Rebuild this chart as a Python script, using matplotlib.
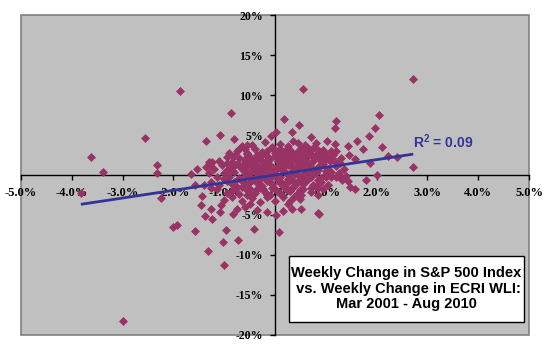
"""Weekly change in S&P 500 vs weekly change in ECRI WLI, scatter with trendline"""

import numpy as np
from matplotlib import pyplot as plt
from matplotlib.patches import Rectangle

plt.rcParams['mathtext.fontset'] = 'custom'
plt.rcParams['mathtext.rm'] = 'Liberation Sans:bold'
plt.rcParams['mathtext.it'] = 'Liberation Sans:bold'
plt.rcParams['mathtext.bf'] = 'Liberation Sans:bold'

# Outlying weeks (x = ECRI WLI weekly change %, y = S&P 500 weekly change %)
outlier_x = [-3.82, -3.63, -3.39, -2.99, -2.56, -2.32, -2.32, -2.24, -2.00, -1.92,
             -1.86, -1.65, -1.57, -1.53, -1.45, -1.44, -1.40, -1.57, -1.38, -1.36,
             -1.31, -1.27, -1.25, -1.24, -1.23, -1.09, -1.08, -1.07, -1.02, -1.00,
             -0.96, -0.87, -0.83, -0.82, -0.80, -0.75, -0.73, -0.70, -0.59, -0.56,
             -0.56, -0.41, -0.36, -0.16, -0.08, 0.02, 0.02, 0.08, 0.16, 0.17,
             0.33, 0.34, 0.37, 0.48, 0.51, 0.52, 0.56, 0.66, 0.70, 0.84,
             0.86, 0.85, 0.98, 1.02, 1.04, 1.08, 1.19, 1.19, 1.21, 1.21,
             1.21, 1.28, 1.31, 1.43, 1.44, 1.45, 1.48, 1.57, 1.57, 1.62,
             1.73, 1.80, 1.84, 1.87, 1.97, 2.00, 2.04, 2.10, 2.23, 2.40,
             2.72, 2.72]
outlier_y = [-2.3, 2.25, 0.4, -18.25, 4.6, 1.3, 0.2, -2.9, -6.5, -6.3,
             10.5, 0.1, -7.0, 0.75, -3.75, -2.6, -1.2, -1.25, -5.1, 4.25,
             -9.5, 1.3, -4.25, -5.5, 1.6, -4.6, 5.0, -3.7, -8.4, -11.2,
             -6.9, 7.8, 2.3, -4.9, 4.5, -4.2, -8.1, 3.2, -4.0, 3.75,
             -2.5, -6.75, -4.4, -4.6, 4.9, 5.4, -5.0, -7.1, -4.45, 7.0,
             -4.25, 5.4, -2.8, 6.2, -4.3, -2.5, 10.75, 3.25, 4.75, -4.7,
             -4.9, -2.5, 2.7, 4.2, -1.3, 1.7, 5.9, 3.9, 6.8, 3.0,
             -0.2, 1.45, -0.6, -0.7, 3.6, 2.5, -1.5, 2.0, -1.75, 4.2,
             3.3, -0.6, 4.9, 1.45, 5.9, 0.0, 7.5, 3.5, 2.4, 2.2,
             12.0, 1.05]

# Cluster around the origin
cluster_x = [-0.45, -0.2, 0.1, 0.35, 0.6, 0.25, -0.05, 0.8, -0.65, 0.45,
             -0.9, -0.75, -0.55, -0.4, -0.3, -0.15, 0.0, 0.1, 0.2, 0.3,
             0.4, 0.5, 0.6, 0.7, 0.85, 0.95, -0.05, 0.55, -0.6, 0.15,
             -0.25, 0.75, 1.1,
             -1.1, -0.95, -0.85, -0.7, -0.6, -0.5, -0.4, -0.3, -0.2, -0.1,
             0.0, 0.05, 0.15, 0.25, 0.35, 0.45, 0.55, 0.65, 0.75, 0.85,
             0.95, 1.05, 1.15, -0.45, 0.3, 0.6, -0.15, 0.9, -0.8, 0.2,
             -1.2, -1.05, -0.95, -0.85, -0.75, -0.65, -0.55, -0.45, -0.35, -0.25,
             -0.15, -0.05, 0.05, 0.15, 0.25, 0.35, 0.45, 0.55, 0.65, 0.75,
             0.85, 0.95, 1.05, 1.2, 1.35, -1.35, 0.1, -0.6, 0.4, 0.7,
             -1.3, -1.15, -1.0, -0.9, -0.8, -0.7, -0.6, -0.5, -0.4, -0.3,
             -0.2, -0.1, 0.0, 0.1, 0.2, 0.3, 0.4, 0.5, 0.6, 0.7,
             0.8, 0.9, 1.0, 1.1, 1.25, 1.4, -0.45, 0.25, -0.15, 0.65,
             -1.25, -1.1, -0.95, -0.85, -0.75, -0.65, -0.55, -0.45, -0.35, -0.25,
             -0.15, -0.05, 0.05, 0.15, 0.25, 0.35, 0.45, 0.55, 0.65, 0.75,
             0.9, 1.05, -0.6, 0.1, -0.3,
             -1.15, -0.95, -0.8, -0.7, -0.55, -0.4, -0.3, -0.2, -0.1, 0.0,
             0.1, 0.2, 0.3, 0.45, 0.55, 0.7, 0.85, -0.5, 0.35, -0.85,
             -1.0, -0.85, -0.65, -0.45, -0.3, -0.15, 0.0, 0.15, 0.3, 0.5,
             0.25, -0.5, -1.3, -1.25]
cluster_y = [3.8, 4.1, 3.9, 4.3, 3.7, 3.6, 3.5, 4.0, 3.6, 3.95,
             2.7, 3.0, 2.8, 3.2, 2.6, 3.0, 2.8, 3.3, 2.7, 3.1,
             2.6, 3.2, 2.9, 2.6, 3.1, 2.8, 3.4, 3.4, 3.3, 2.55,
             2.9, 3.35, 3.0,
             1.8, 2.2, 1.6, 2.1, 1.7, 2.3, 1.9, 2.2, 1.6, 2.0,
             2.4, 1.7, 2.1, 1.8, 2.3, 1.6, 2.0, 2.4, 1.8, 2.2,
             1.6, 2.3, 1.9, 1.55, 1.55, 1.65, 2.35, 2.45, 2.4, 2.45,
             0.8, 1.2, 0.6, 1.0, 1.4, 0.7, 1.1, 0.6, 1.3, 0.9,
             1.4, 0.7, 1.1, 0.6, 1.3, 0.9, 1.4, 0.7, 1.2, 0.6,
             1.0, 1.4, 0.8, 1.1, 0.7, 1.0, 1.45, 1.45, 0.55, 0.95,
             0.2, -0.3, 0.3, -0.2, 0.4, -0.4, 0.1, -0.3, 0.35, -0.1,
             0.2, -0.4, 0.1, -0.2, 0.4, -0.35, 0.15, -0.1, 0.3, -0.3,
             0.2, -0.4, 0.1, -0.2, 0.3, -0.1, -0.45, 0.0, 0.45, 0.45,
             -0.9, -1.3, -0.7, -1.1, -1.45, -0.8, -1.2, -0.6, -1.0, -1.4,
             -0.75, -1.15, -0.6, -1.3, -0.9, -1.45, -0.7, -1.1, -0.55, -1.3,
             -0.9, -1.2, -1.0, -0.95, -0.55,
             -1.8, -2.2, -1.7, -2.4, -1.9, -2.3, -1.6, -2.1, -2.5, -1.8,
             -2.2, -1.6, -2.0, -2.3, -1.7, -2.1, -1.6, -2.5, -1.55, -2.0,
             -3.1, -2.7, -3.3, -2.9, -3.4, -2.7, -3.2, -2.8, -3.3, -3.0,
             -3.6, -3.6, 1.6, -1.6]

# Densest core of the cloud
core_x = [-0.65, -0.5, -0.35, -0.2, -0.05, 0.1, 0.25, 0.4, 0.55, 0.7, 0.85, 1.0,
          -0.6, -0.45, -0.3, -0.15, 0.0, 0.15, 0.3, 0.45, 0.6, 0.75, 0.9, 1.0,
          -0.55, -0.35, -0.2, 0.05, 0.2, 0.35, 0.5, 0.65, 0.8, 0.95,
          -0.7, -0.5, -0.35, -0.2, -0.05, 0.1, 0.25, 0.4, 0.55, 0.7, 0.85, 1.0,
          -0.65, -0.5, -0.3, -0.1, 0.05, 0.2, 0.35, 0.5, 0.6, 0.8, 0.95,
          -0.6, -0.4, -0.25, -0.1, 0.05, 0.2, 0.3, 0.45, 0.6, 0.75, 0.9,
          1.1, 1.2, 1.3, 1.15, 1.3, -0.85, -0.95, -1.0, -0.8, -0.9]
core_y = [-1.5, -0.9, -1.8, -0.3, -1.6, -0.7, -1.9, -1.2, -0.4, -1.6, -0.6, -0.3,
          0.5, 1.8, 0.6, 1.2, 0.5, 1.9, 0.3, 1.0, 1.9, 0.3, 1.7, 0.5,
          2.6, 2.45, 2.75, 2.2, 3.0, 2.65, 2.45, 2.75, 2.55, 3.1,
          1.25, 0.25, -0.25, 1.05, 0.25, 0.85, -0.55, 2.0, 1.45, 1.55, 0.65, 2.1,
          -0.6, -1.75, -1.25, -0.9, -2.1, -1.1, -0.8, -1.85, -0.85, -1.35, -1.8,
          2.0, 1.0, 1.7, 1.2, 3.0, 1.3, 2.2, 2.9, 0.9, 2.25, 1.3,
          0.4, 1.6, -0.4, 2.5, 2.1, 0.9, 1.5, -0.5, -0.9, 0.3]

wli_change = np.array(outlier_x + cluster_x + core_x)
spx_change = np.array(outlier_y + cluster_y + core_y)

# Linear trendline as shown on the chart
trend_slope = 0.96
trend_intercept = 0.0
r_squared = 0.09

title_text = 'Weekly Change in S&P 500 Index\n vs. Weekly Change in ECRI WLI:\nMar 2001 - Aug 2010'

x_ticks = [-5, -4, -3, -2, -1, 0, 1, 2, 3, 4, 5]
y_ticks = [-20, -15, -10, -5, 0, 5, 10, 15, 20]

fig = plt.figure(figsize=(5.5, 3.5), dpi=100)
ax = fig.add_axes([0.038, 0.043, 0.924, 0.914])
ax.set_facecolor('#C0C0C0')
ax.patch.set_edgecolor('#808080')
ax.patch.set_linewidth(1.2)

ax.scatter(wli_change, spx_change, marker='D', s=21, color='#993366',
           linewidths=0, zorder=3)

trend_x = np.array([wli_change.min(), wli_change.max()])
ax.plot(trend_x, trend_slope * trend_x + trend_intercept, color='#333399',
        lw=2.0, zorder=4, solid_capstyle='butt')

ax.text(2.72, 3.4, '$\\mathrm{R}^{2}$' + f' = {r_squared:.2f}', color='#333399',
        fontfamily='Liberation Sans', fontweight='bold', fontsize=10,
        ha='left', va='baseline', zorder=5)

ax.set_xlim(-5, 5)
ax.set_ylim(-20, 20)

for side in ['top', 'right']:
    ax.spines[side].set_visible(False)
for side in ['left', 'bottom']:
    ax.spines[side].set_position(('data', 0))
    ax.spines[side].set_color('black')
    ax.spines[side].set_linewidth(1.0)
    ax.spines[side].set_zorder(2)

ax.set_xticks(x_ticks)
ax.set_xticklabels([f'{t:.1f}%' for t in x_ticks])
ax.set_yticks(y_ticks)
ax.set_yticklabels([f'{t}%' for t in y_ticks])
ax.tick_params(axis='x', direction='out', length=3.5, width=1, pad=5, labelsize=9)
ax.tick_params(axis='y', direction='out', length=3.5, width=1, pad=5, labelsize=8.5)
for lab in ax.get_xticklabels() + ax.get_yticklabels():
    lab.set_fontfamily('Liberation Serif')
    lab.set_fontweight('bold')
    lab.set_zorder(6)

box = Rectangle((0.28, -18.4), 4.62, 8.3, facecolor='white', edgecolor='black',
                lw=1.0, zorder=7)
ax.add_patch(box)
ax.text(2.59, -14.2, title_text, ha='center', va='center', multialignment='center',
        fontfamily='Liberation Sans', fontweight='bold', fontsize=10.5,
        linespacing=1.1, zorder=8)

plt.savefig('out.png', dpi=100)
